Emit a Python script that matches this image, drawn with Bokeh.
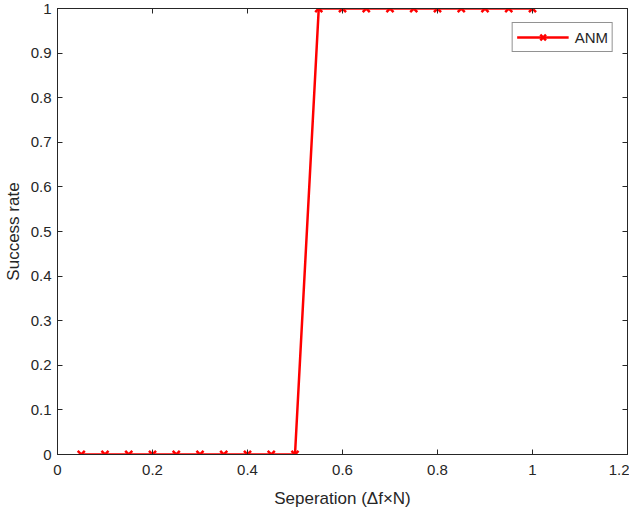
from bokeh.plotting import figure
from bokeh.models import LinearAxis, Range1d, FixedTicker, Legend, LegendItem
from bokeh.embed import file_html
from bokeh.resources import INLINE

separation = [0.05, 0.10, 0.15, 0.20, 0.25, 0.30, 0.35, 0.40, 0.45, 0.50,
              0.55, 0.60, 0.65, 0.70, 0.75, 0.80, 0.85, 0.90, 0.95, 1.00]
success_rate = [0, 0, 0, 0, 0, 0, 0, 0, 0, 0,
                1, 1, 1, 1, 1, 1, 1, 1, 1, 1]
x_ticks = [0, 0.2, 0.4, 0.6, 0.8, 1.0, 1.2]
y_ticks = [0, 0.1, 0.2, 0.3, 0.4, 0.5, 0.6, 0.7, 0.8, 0.9, 1.0]
series_name = "ANM"

FONT = "Liberation Sans"
AX = "#262626"

p = figure(width=630, height=503, output_backend="svg", toolbar_location=None,
           x_range=Range1d(0, 1.2), y_range=Range1d(0, 1),
           min_border_left=53, min_border_right=2, min_border_top=8, min_border_bottom=40)
p.frame_width = 570
p.frame_height = 446
p.xgrid.visible = False
p.ygrid.visible = False
p.outline_line_color = AX

def style(ax, labels=True):
    ax.axis_line_color = AX
    ax.major_tick_line_color = AX
    ax.major_tick_in = 5
    ax.major_tick_out = 0
    ax.minor_tick_line_color = None
    ax.major_label_text_font = FONT
    ax.major_label_text_font_size = "15px"
    ax.major_label_text_color = AX if labels else None
    ax.axis_label_text_font = FONT
    ax.axis_label_text_font_size = "17px"
    ax.axis_label_text_font_style = "normal"
    ax.axis_label_text_color = AX

p.xaxis.ticker = FixedTicker(ticks=x_ticks)
p.yaxis.ticker = FixedTicker(ticks=y_ticks)
p.xaxis.axis_label = "Seperation (\u0394f\u00d7N)"
p.yaxis.axis_label = "Success rate"
p.xaxis.major_label_overrides = {0: "0", 1.0: "1"}
p.yaxis.major_label_overrides = {0: "0", 1.0: "1"}
style(p.xaxis[0])
style(p.yaxis[0])
p.xaxis.major_label_standoff = 10
p.yaxis.major_label_standoff = 6
p.xaxis.axis_label_standoff = 11
p.yaxis.axis_label_standoff = 5

top = LinearAxis(ticker=FixedTicker(ticks=x_ticks))
right = LinearAxis(ticker=FixedTicker(ticks=y_ticks))
style(top, False)
style(right, False)
top.major_label_text_font_size = "0px"
right.major_label_text_font_size = "0px"
top.major_label_standoff = 0
right.major_label_standoff = 0
p.add_layout(top, "above")
p.add_layout(right, "right")

r1 = p.line(separation, success_rate, line_color="red", line_width=2.5)
r2 = p.scatter(separation, success_rate, marker="x", size=10, line_color="red", line_width=2.5)

legend = Legend(items=[LegendItem(label=series_name, renderers=[r1, r2])],
                location="top_right")
legend.label_text_font = FONT
legend.label_text_font_size = "15px"
legend.label_text_color = AX
legend.border_line_color = AX
legend.border_line_width = 1
legend.glyph_width = 52
legend.padding = 4
legend.margin = 14
legend.spacing = 0
legend.label_standoff = 6
p.add_layout(legend)

open("out.html", "w").write(file_html(p, INLINE))
